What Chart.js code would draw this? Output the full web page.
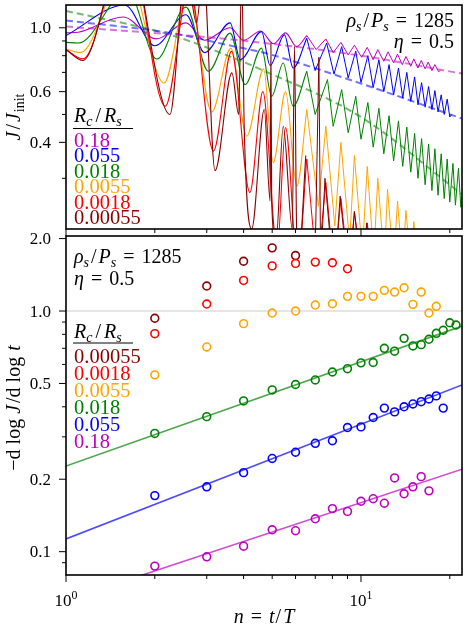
<!DOCTYPE html>
<html>
<head>
<meta charset="utf-8">
<script src="https://cdn.jsdelivr.net/npm/chart.js@4.4.1/dist/chart.umd.min.js"></script>
<style>
  html, body { margin: 0; padding: 0; background: #fff; }
  #wrap { position: relative; width: 468px; height: 635px; }
  #wrap canvas { position: absolute; left: 0; top: 0; }
</style>
</head>
<body>
<div id="wrap">
  <canvas id="topChart" width="468" height="635"></canvas>
  <canvas id="botChart" width="468" height="635"></canvas>
</div>
<script>
// ---------- values ----------
var xMajor = [1, 10];
var xMinor = [2, 3, 4, 5, 6, 7, 8, 9, 20];
var topYTicks = [0.4, 0.6, 1.0];
var topYMinor = [0.3, 0.5, 0.7, 0.8, 0.9];
var botYTicks = [0.1, 0.2, 0.5, 1.0, 2.0];
var botYMinor = [0.09, 0.3, 0.4, 0.6, 0.7, 0.8, 0.9];

// R_c/R_s values and their colours (0.18 ... 0.00055)
var ratios = ['0.18', '0.055', '0.018', '0.0055', '0.0018', '0.00055'];
var colors = ['#bf00bf', '#0000ff', '#008000', '#ffa500', '#ff0000', '#8b0000'];

// top panel: J/J_init vs n, [n, J] at the turning points of each curve
var jMagenta = [[1,0.96],[1.1,0.965],[1.56,1.09],[2.03,0.915],[2.55,1.04],[2.95,0.905],[3.6,1.0],[4.0,0.905],
  [4.57,0.975],[5.05,0.88],[5.55,0.96],[6.05,0.86],[6.55,0.94],[7.05,0.84],[7.6,0.915],[8.05,0.82],[8.55,0.89],
  [9.05,0.805],[9.5,0.87],[10.05,0.79],[10.5,0.855],[11.0,0.775],[11.4,0.84],[11.95,0.765],[12.35,0.825],
  [12.9,0.755],[13.3,0.81],[13.8,0.745],[14.2,0.795],[14.75,0.735],[15.1,0.78],[15.6,0.725],[16.0,0.77],
  [16.5,0.72],[16.9,0.76],[17.4,0.71],[17.8,0.745],[18.3,0.705],[18.6,0.71]];
var jBlue = [[1,0.94],[1.58,1.2],[2.0,0.866],[2.55,1.11],[2.95,0.82],[3.6,1.04],[3.9,0.775],[4.6,0.97],
  [4.92,0.74],[5.5,0.945],[5.89,0.725],[6.55,0.92],[6.99,0.71],[7.65,0.885],[8.1,0.69],[8.6,0.86],[9.05,0.67],
  [9.6,0.83],[10.0,0.645],[10.55,0.80],[11.0,0.62],[11.5,0.775],[11.95,0.60],[12.45,0.745],[12.9,0.585],
  [13.4,0.725],[13.85,0.57],[14.3,0.70],[14.75,0.555],[15.2,0.675],[15.6,0.54],[16.05,0.645],[16.5,0.53],
  [16.95,0.625],[17.4,0.52],[17.8,0.605],[18.25,0.51],[18.7,0.585],[19.15,0.50],[19.6,0.565],[20.0,0.49],[20.3,0.5]];
var jGreen = [[1,0.89],[1.1,0.885],[1.62,1.35],[2.03,0.779],[2.55,1.18],[3.04,0.706],[3.6,0.958],[4.05,0.635],
  [4.6,0.85],[4.98,0.578],[5.45,0.755],[5.89,0.534],[6.55,0.706],[6.99,0.50],[7.7,0.661],[8.05,0.455],[8.6,0.61],
  [9.05,0.432],[9.6,0.578],[10.0,0.41],[10.55,0.55],[11.0,0.385],[11.5,0.525],[11.95,0.365],[12.45,0.495],
  [12.9,0.345],[13.4,0.475],[13.85,0.33],[14.3,0.452],[14.75,0.315],[15.2,0.43],[15.6,0.30],[16.05,0.412],
  [16.5,0.285],[16.95,0.395],[17.4,0.272],[17.8,0.38],[18.25,0.262],[18.7,0.365],[19.15,0.255],[19.6,0.35],
  [20.0,0.248],[20.5,0.338],[20.9,0.242],[21.4,0.325],[21.8,0.238],[22,0.26]];
var jOrange = [[1,0.844],[1.12,0.82],[1.6,1.6],[2.15,0.643],[2.6,1.35],[3.12,0.51],[3.62,0.85],[4.1,0.42],
  [4.68,0.72],[5.04,0.34],[5.55,0.6],[6.06,0.282],[6.55,0.52],[7.17,0.24],[7.6,0.455],[8.15,0.205],[8.55,0.40],
  [9.15,0.18],[9.5,0.36],[10.1,0.165],[10.5,0.33],[11.05,0.16],[11.4,0.30],[12.0,0.155],[12.3,0.275],[12.9,0.15],
  [13.3,0.25],[13.85,0.15],[14.2,0.232],[14.75,0.15],[15.1,0.212],[15.6,0.15],[16.0,0.195],[16.5,0.15]];
var jRed = [[1,0.84],[1.14,0.78],[1.62,2.0],[2.17,0.534],[2.62,1.4],[3.16,0.373],[3.64,0.828],[4.2,0.268],
  [4.65,0.6],[5.2,0.17],[5.55,0.45],[6.1,0.15],[6.55,0.35],[7.1,0.14],[7.6,0.29],[8.1,0.14],[8.55,0.255],
  [9.1,0.14],[9.5,0.23],[10.1,0.14],[10.5,0.21],[11,0.14]];
var jDarkRed = [[1,0.84],[1.14,0.77],[1.6,2.0],[2.25,0.50],[2.55,1.6],[2.77,1.04],[2.92,1.6],[3.2,0.319],
  [3.65,0.697],[3.85,0.5],[3.94,1.6],[4.02,0.45],[4.26,0.2],[4.7,0.52],[4.92,0.25],[4.95,0.885],[4.98,0.25],
  [5.15,0.18],[5.45,0.455],[5.85,0.2],[5.95,0.862],[6.05,0.2],[6.15,0.16],[6.5,0.36],[7.0,0.17],[7.2,0.79],
  [7.3,0.15],[7.55,0.30],[8.1,0.13],[8.5,0.26],[9.1,0.13],[9.5,0.23],[10.1,0.13],[10.45,0.21],[11,0.13]];

// beyond this n the oscillations are sharp zigzags rather than smooth humps
var smoothUntil = 6.55;

// dashed trend curves in the top panel
var fitMagentaTop = [[1,1.01],[3.71,0.909],[10,0.80],[22,0.693]];
var fitBlueTop = [[1,1.06],[2.25,0.96],[3.71,0.862],[4.73,0.817],[10,0.64],[22,0.484]];
var fitGreenTop = [[1,1.145],[2.25,0.946],[3.71,0.785],[4.73,0.706],[9.9,0.493],[22,0.264]];

// bottom panel: -dlogJ/dlogt at n = 2, 3, 4, ...
var sDarkRed = [0.933, 1.27, 1.61, 1.83, 1.70];
var sRed = [0.805, 1.069, 1.34, 1.54, 1.577, 1.597, 1.587, 1.498];
var sOrange = [0.543, 0.709, 0.886, 0.981, 1.0, 1.059, 1.072, 1.151, 1.151, 1.151, 1.219, 1.199, 1.249, 1.066, 1.199, 0.981, 1.046];
var sGreen = [0.31, 0.364, 0.423, 0.47, 0.495, 0.517, 0.558, 0.576, 0.609, 0.611, 0.700, 0.681, 0.770, 0.716, 0.725, 0.763, 0.808, 0.832, 0.894, 0.875];
var sBlue = [0.171, 0.186, 0.213, 0.244, 0.259, 0.282, 0.289, 0.328, 0.330, 0.361, 0.395, 0.381, 0.400, 0.411, 0.420, 0.431, 0.444, 0.395];
var sMagenta = [0.0871, 0.0952, 0.1054, 0.1233, 0.1222, 0.137, 0.151, 0.147, 0.162, 0.166, 0.159, 0.2025, 0.174, 0.186, 0.205, 0.179];

// power-law fits in the bottom panel
var fitGreenBot = [[1,0.227],[22,0.866]];
var fitBlueBot = [[1,0.113],[22,0.493]];
var fitMagentaBot = [[1,0.0628],[22,0.220]];
var unityLine = [[1,1],[22,1]];

// ---------- helpers ----------
var SERIF = '"Liberation Serif", "DejaVu Serif", serif';

function pairs(a) { return a.map(function (p) { return {x: p[0], y: p[1]}; }); }
function fromTwo(a) { return a.map(function (v, i) { return {x: i + 2, y: v}; }); }

function alpha(hex, a) {
  var r = parseInt(hex.substr(1, 2), 16), g = parseInt(hex.substr(3, 2), 16), b = parseInt(hex.substr(5, 2), 16);
  return 'rgba(' + r + ',' + g + ',' + b + ',' + a + ')';
}

// parts: [text, style, extra advance after, extra space before]; style: i = italic, _ = sub, ^ = sup
function drawRich(ctx, parts, x, y, size, align, color) {
  var items = parts.map(function (p) {
    var st = p[1] || '';
    var small = st.indexOf('_') >= 0 || st.indexOf('^') >= 0;
    var s = small ? size * 0.7 : size;
    var f = (st.indexOf('i') >= 0 ? 'italic ' : '') + s + 'px ' + SERIF;
    ctx.font = f;
    var dy = st.indexOf('_') >= 0 ? size * 0.22 : (st.indexOf('^') >= 0 ? -size * 0.42 : 0);
    return {t: p[0], f: f, w: ctx.measureText(p[0]).width + (p[2] || 0), pre: p[3] || 0, dy: dy};
  });
  var total = 0;
  items.forEach(function (it) { total += it.w + it.pre; });
  var cx = align === 'right' ? x - total : (align === 'center' ? x - total / 2 : x);
  ctx.fillStyle = color || '#000';
  ctx.textAlign = 'left';
  ctx.textBaseline = 'alphabetic';
  items.forEach(function (it) {
    cx += it.pre;
    ctx.font = it.f;
    ctx.fillText(it.t, cx, y + it.dy);
    cx += it.w;
  });
  return total;
}

var rhoText = [['ρ', 'i'], ['s', 'i_', 2], ['/', '', 2], ['P', 'i'], ['s', 'i_'], ['=', '', 0, 7], ['1285', '', 0, 7]];
var etaText = [['η', 'i'], ['=', '', 0, 7], ['0.5', '', 0, 7]];
var rcText = [['R', 'i'], ['c', 'i_', 3], ['/', '', 3], ['R', 'i'], ['s', 'i_']];

function frameAndTicks(chart, yMajor, yMinor) {
  var ctx = chart.ctx, a = chart.chartArea, sx = chart.scales.x, sy = chart.scales.y;
  ctx.save();
  ctx.strokeStyle = '#000';
  ctx.lineWidth = 1;
  xMinor.forEach(function (v) {
    var px = sx.getPixelForValue(v);
    ctx.beginPath(); ctx.moveTo(px, a.bottom); ctx.lineTo(px, a.bottom + 4); ctx.stroke();
  });
  xMajor.forEach(function (v) {
    var px = sx.getPixelForValue(v);
    ctx.beginPath(); ctx.moveTo(px, a.bottom); ctx.lineTo(px, a.bottom + 7); ctx.stroke();
  });
  yMinor.forEach(function (v) {
    var py = sy.getPixelForValue(v);
    ctx.beginPath(); ctx.moveTo(a.left - 4, py); ctx.lineTo(a.left, py); ctx.stroke();
  });
  yMajor.forEach(function (v) {
    var py = sy.getPixelForValue(v);
    ctx.beginPath(); ctx.moveTo(a.left - 7, py); ctx.lineTo(a.left, py); ctx.stroke();
    ctx.font = '17px ' + SERIF;
    ctx.fillStyle = '#000';
    ctx.textAlign = 'right';
    ctx.textBaseline = 'alphabetic';
    ctx.fillText(v.toFixed(1), 51, py + 5.7);
  });
  ctx.lineWidth = 1.6;
  ctx.strokeRect(a.left, a.top, a.right - a.left, a.bottom - a.top);
  ctx.restore();
}

function legendBlock(ctx, x, titleBase, lineY, bases, order) {
  drawRich(ctx, rcText, x, titleBase, 20, 'left', '#000');
  ctx.strokeStyle = '#000';
  ctx.lineWidth = 1;
  ctx.beginPath(); ctx.moveTo(x - 1, lineY); ctx.lineTo(x + 59, lineY); ctx.stroke();
  order.forEach(function (k, i) {
    drawRich(ctx, [[ratios[k], '']], x, bases[i], 20.5, 'left', colors[k]);
  });
}

var topDeco = {
  id: 'topDeco',
  afterDraw: function (chart) {
    var ctx = chart.ctx;
    frameAndTicks(chart, topYTicks, topYMinor);
    ctx.save();
    drawRich(ctx, rhoText, 454, 27, 20, 'right');
    drawRich(ctx, etaText, 454, 48, 20, 'right');
    legendBlock(ctx, 74, 122, 128.5, [146.5, 162, 177.5, 193, 208.5, 224], [0, 1, 2, 3, 4, 5]);
    ctx.translate(20, 117);
    ctx.rotate(-Math.PI / 2);
    drawRich(ctx, [['J', 'i'], ['/', '', 2, 2], ['J', 'i', 1], ['init', '_']], 0, 0, 20, 'center');
    ctx.restore();
  }
};

var botDeco = {
  id: 'botDeco',
  afterDraw: function (chart) {
    var ctx = chart.ctx, sx = chart.scales.x;
    frameAndTicks(chart, botYTicks, botYMinor);
    ctx.save();
    drawRich(ctx, rhoText, 74, 263, 20, 'left');
    drawRich(ctx, etaText, 74, 285, 20, 'left');
    legendBlock(ctx, 74, 338, 343, [363, 380, 397, 413.5, 430.5, 447.5], [5, 4, 3, 2, 1, 0]);
    xMajor.forEach(function (v, i) {
      drawRich(ctx, [['10', ''], [String(i), '^']], sx.getPixelForValue(v), 606, 17, 'center');
    });
    drawRich(ctx, [['n', 'i'], ['=', '', 0, 7], ['t', 'i', 1, 7], ['/', '', 2], ['T', 'i']], 264, 623, 20, 'center');
    ctx.translate(20, 408);
    ctx.rotate(-Math.PI / 2);
    drawRich(ctx, [['−d log ', ''], ['J', 'i', 2], ['/d log ', '', 1], ['t', 'i']], 0, 0, 20, 'center');
    ctx.restore();
  }
};

// ---------- top chart ----------
var topCurves = [jMagenta, jBlue, jGreen, jOrange, jRed, jDarkRed];
var topSets = [];
topCurves.forEach(function (c, i) {
  // smooth humps at early times
  topSets.push({
    data: pairs(c.filter(function (p) { return p[0] <= smoothUntil; })),
    borderColor: colors[i], borderWidth: 1.1, pointRadius: 0,
    cubicInterpolationMode: 'monotone', order: 6 - i
  });
  // sharp zigzag afterwards
  topSets.push({
    data: pairs(c.filter(function (p) { return p[0] >= smoothUntil - 0.01; })),
    borderColor: colors[i], borderWidth: 1.0, pointRadius: 0, tension: 0, order: 6 - i
  });
});
[[fitMagentaTop, 0], [fitBlueTop, 1], [fitGreenTop, 2]].forEach(function (f) {
  topSets.push({
    data: pairs(f[0]), borderColor: alpha(colors[f[1]], 0.55), borderWidth: 2, borderDash: [7, 4],
    pointRadius: 0, cubicInterpolationMode: 'monotone', order: 0
  });
});

new Chart(document.getElementById('topChart'), {
  type: 'line',
  data: { datasets: topSets },
  options: {
    responsive: false, animation: false, events: [],
    layout: { padding: { left: 66, top: 5, right: 6, bottom: 406 } },
    scales: {
      x: { type: 'logarithmic', min: 1, max: 22, display: false },
      y: { type: 'logarithmic', min: 0.2, max: 1.2, display: false }
    },
    plugins: { legend: { display: false }, tooltip: { enabled: false } }
  },
  plugins: [topDeco]
});

// ---------- bottom chart ----------
var slopeSeries = [sMagenta, sBlue, sGreen, sOrange, sRed, sDarkRed];
var botSets = slopeSeries.map(function (s, i) {
  return {
    data: fromTwo(s), showLine: false, borderColor: colors[i], pointBorderColor: colors[i],
    pointBackgroundColor: 'rgba(0,0,0,0)', pointRadius: 3.9, pointBorderWidth: 1.6, order: 0
  };
});
[[fitMagentaBot, 0], [fitBlueBot, 1], [fitGreenBot, 2]].forEach(function (f) {
  botSets.push({ data: pairs(f[0]), borderColor: alpha(colors[f[1]], 0.7), borderWidth: 1.6, pointRadius: 0, order: 1 });
});
botSets.push({ data: pairs(unityLine), borderColor: '#dcdcdc', borderWidth: 1.5, pointRadius: 0, order: 2 });

new Chart(document.getElementById('botChart'), {
  type: 'line',
  data: { datasets: botSets },
  options: {
    responsive: false, animation: false, events: [],
    layout: { padding: { left: 66, top: 236, right: 6, bottom: 60 } },
    scales: {
      x: { type: 'logarithmic', min: 1, max: 22, display: false },
      y: { type: 'logarithmic', min: 0.08, max: 2.05, display: false }
    },
    plugins: { legend: { display: false }, tooltip: { enabled: false } }
  },
  plugins: [botDeco]
});
</script>
</body>
</html>
